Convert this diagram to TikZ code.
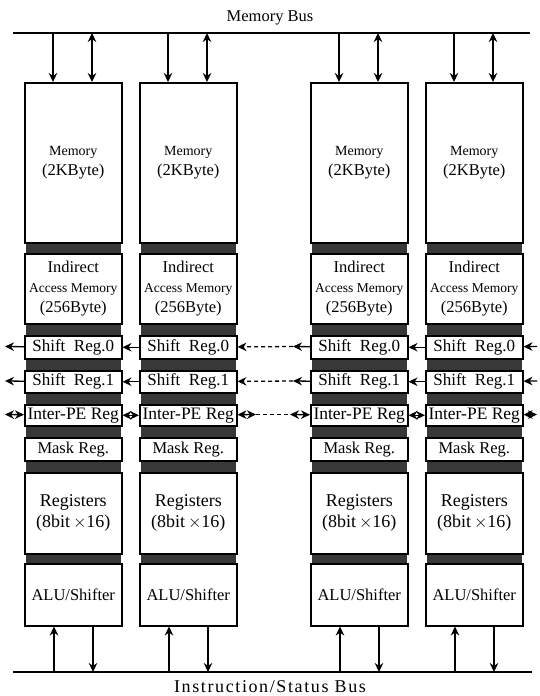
\documentclass[tikz,border=0pt]{standalone}
\usepackage{fontspec}
\setmainfont{Liberation Serif}
\usetikzlibrary{arrows.meta, backgrounds}
\newcommand{\pefont}{\fontsize{16.5}{20}\selectfont}
\newcommand{\smallpe}{\fontsize{13.5}{20}\selectfont}
\tikzset{
    box/.style = {draw, line width=1.5pt, anchor=north west, minimum width=97pt,
                  inner sep=0pt, align=center, font=\pefont},
    band/.style = {fill=black!78},
    bus/.style = {line width=2.8pt},
    arr/.style = {-{Stealth[length=9pt,width=8.5pt]}, line width=1.3pt},
    dbl/.style = {{Stealth[length=9pt,width=8.5pt]}-{Stealth[length=9pt,width=8.5pt]}, line width=1.3pt},
    gapline/.style = {dash pattern=on 4pt off 3pt, line width=1.3pt},
}

\begin{document}
\begin{tikzpicture}[x=1pt, y=-1pt]
  \useasboundingbox (0,0) rectangle (540,696);
  % buses
  \coordinate (mbL) at (13,33);
  \coordinate (mbR) at (530,33);
  \coordinate (ibL) at (13,672);
  \coordinate (ibR) at (532,672);
  \draw[bus] (mbL) -- (mbR);
  \draw[bus] (ibL) -- (ibR);
  \node[font=\fontsize{16.5}{18}\selectfont] (mbus) at (270,18) {Memory Bus};
  \node[font=\fontsize{18}{20}\selectfont\addfontfeatures{LetterSpace=9}] (ibus) at (270,687) {Instruction/Status Bus};
  % processing elements
  \foreach \i/\x in {1/24,2/139,3/310,4/425} {
    \node[box, minimum height=160pt] (mem\i) at (\x,82)
      {{\fontsize{14}{22}\selectfont Memory}\\(2KByte)};
    \node[box, minimum height=70pt] (iam\i) at (\x,253)
      {Indirect\\{\smallpe Access Memory}\\(256Byte)};
    \node[box, minimum height=23pt, font=\fontsize{17}{18}\selectfont] (sra\i) at (\x,335) {Shift\ \ Reg.0};
    \node[box, minimum height=22pt, font=\fontsize{17}{18}\selectfont] (srb\i) at (\x,370) {Shift\ \ Reg.1};
    \node[box, minimum height=21pt, font=\fontsize{17.5}{18}\selectfont] (ipe\i) at (\x,404) {Inter-PE Reg};
    \node[box, minimum height=23pt] (mask\i) at (\x,437) {Mask Reg.};
    \node[box, minimum height=81pt, font=\fontsize{18}{21}\selectfont] (reg\i) at (\x,472) {Registers\\(8bit\,$\times$16)};
    \node[box, minimum height=62pt] (alu\i) at (\x,563) {ALU/Shifter};
    % dark bands
    \begin{scope}[on background layer]
      \fill[band] ([xshift=2pt]mem\i.south west) rectangle ([xshift=-2pt]iam\i.north east);
      \fill[band] ([xshift=2pt]iam\i.south west) rectangle ([xshift=-2pt]sra\i.north east);
      \fill[band] ([xshift=2pt]sra\i.south west) rectangle ([xshift=-2pt]srb\i.north east);
      \fill[band] ([xshift=2pt]srb\i.south west) rectangle ([xshift=-2pt]ipe\i.north east);
      \fill[band] ([xshift=2pt]ipe\i.south west) rectangle ([xshift=-2pt]mask\i.north east);
      \fill[band] ([xshift=2pt]mask\i.south west) rectangle ([xshift=-2pt]reg\i.north east);
      \fill[band] ([xshift=2pt]reg\i.south west) rectangle ([xshift=-2pt]alu\i.north east);
    \end{scope}
    % bus connections
    \draw[arr] ([xshift=29pt]mem\i.north west |- mbL) -- ([xshift=29pt]mem\i.north west);
    \draw[dbl] ([xshift=68pt]mem\i.north west |- mbL) -- ([xshift=68pt]mem\i.north west);
    \draw[arr] ([xshift=30pt]alu\i.south west |- ibL) -- ([xshift=30pt]alu\i.south west);
    \draw[arr] ([xshift=69pt]alu\i.south west) -- ([xshift=69pt]alu\i.south west |- ibL);
  }
  % shift register chains
  \coordinate (ea) at (5,346.5);   \coordinate (wa) at (537,346.5);
  \coordinate (eb) at (5,381);     \coordinate (wb) at (537,381);
  \coordinate (ec) at (5,414.5);   \coordinate (wc) at (537,414.5);
  \coordinate (ga) at (293,346.5);
  \coordinate (gb) at (293,381);
  \coordinate (gc1) at (256,414.5);
  \coordinate (gc2) at (290,414.5);
  \draw[arr] (sra1) -- (ea);
  \draw[arr] (sra2) -- (sra1);
  \draw[arr, gapline] (ga) -- (sra2);
  \draw[arr] (sra3) -- (ga);
  \draw[arr] (sra4) -- (sra3);
  \draw[arr] (wa) -- (sra4);
  \draw[arr] (srb1) -- (eb);
  \draw[arr] (srb2) -- (srb1);
  \draw[arr, gapline] (gb) -- (srb2);
  \draw[arr] (srb3) -- (gb);
  \draw[arr] (srb4) -- (srb3);
  \draw[arr] (wb) -- (srb4);
  % inter-PE links
  \draw[dbl] (ec) -- (ipe1);
  \draw[dbl] (ipe1) -- (ipe2);
  \draw[dbl] (ipe2) -- (gc1);
  \draw[gapline] (gc1) -- (gc2);
  \draw[dbl] (gc2) -- (ipe3);
  \draw[dbl] (ipe3) -- (ipe4);
  \draw[dbl] (ipe4) -- (wc);
\end{tikzpicture}
\end{document}
